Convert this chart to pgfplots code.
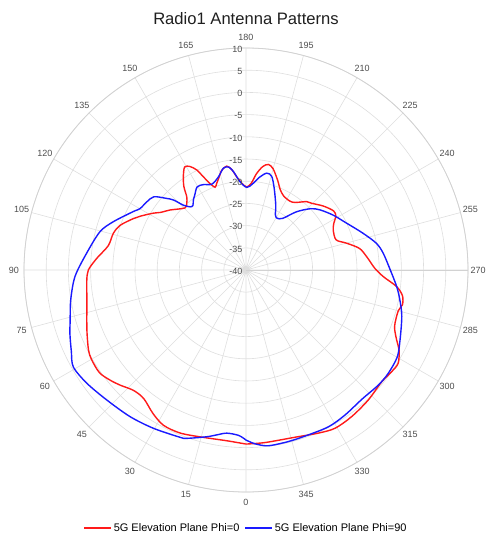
\documentclass[border=0pt]{standalone}
\usepackage{pgfplots}
\pgfplotsset{compat=1.18}
\usepgfplotslibrary{polar}
\usepackage{pgfplotstable}
\usepackage{fontspec}
\setmainfont{Liberation Sans}
\definecolor{lblgray}{HTML}{4D4D4D}
\definecolor{gridgray}{HTML}{DEDEDE}
\definecolor{ringgray}{HTML}{D2D2D2}
\definecolor{redline}{HTML}{FF1A1A}
\definecolor{blueline}{HTML}{1A1AFF}

\pgfplotstableread{
a r
0 -0.8
6.5 -1.3
15 -1.05
22 -0.4
28 -0.4
33 -1.5
38.5 -3.0
43 -2.9
47.5 -1.6
51 -0.6
55 0.3
60 0.2
63 -0.2
68 -1.4
72.5 -2.4
79 -3.5
86 -4.05
90 -4.5
94.5 -6.3
100 -8.5
105.5 -9.0
109.5 -9.9
114.5 -12.1
117 -13.3
121.5 -15.5
124 -16.8
128.3 -18.2
135.5 -20.4
138.4 -19.9
141 -18.8
143.3 -16.6
146.1 -14.7
149.2 -13.0
151.6 -13.5
153.8 -14.9
155.4 -16.9
157.4 -18.9
159.5 -20.1
161.3 -19.4
163.5 -18.4
166.3 -16.9
169.5 -16.2
172 -17.2
174.3 -18.9
177.2 -20.4
180.5 -21.3
183.5 -20.4
186.2 -18.2
189.2 -16.4
192 -15.7
195 -16.4
199.7 -18.7
203 -20.3
207 -21.3
212.5 -21.6
216 -21.2
221.6 -19.4
224.6 -18.9
230.4 -17.4
236 -16.2
239 -16.4
242 -17.6
245.5 -18.4
251.5 -18.6
255 -16.6
259.2 -14.0
263.7 -12.65
269.2 -11.0
272.8 -9.0
276.3 -5.85
279.3 -4.3
282.5 -3.9
285 -4.5
290.8 -4.2
294.9 -2.6
297.6 -1.1
301.5 0.2
305 0.0
309.5 -0.4
316.8 0.2
324.2 0.7
330.6 0.9
336 0.2
343.7 -0.75
353.7 -0.9
360 -0.8
}\redtab

\pgfplotstableread{
a r
0 -1.7
2.5 -2.7
6.7 -3.0
10 -2.3
13.3 -1.4
19.4 0.2
21.5 0.5
30.3 1.3
38.3 2.1
47 2.9
54.6 4.0
60.7 4.6
65 3.4
70 2.2
74 1.2
80.3 0.05
87.8 -1.45
96 -3.9
104.7 -6.0
110 -8.2
117.4 -11.4
120 -12.4
124.5 -12.9
128.5 -13.5
132 -15.9
134 -17.3
136 -19.7
138.5 -21.0
140.5 -21.2
143 -20.3
145.5 -19.6
149.5 -18.3
153.5 -18.5
158.2 -19.2
163.3 -18.2
167.5 -16.5
170.5 -16.5
172.8 -17.7
176 -20.0
180.5 -21.4
184.5 -20.5
188.5 -18.8
192.1 -17.7
195.3 -18.1
199 -20.5
204.8 -24.0
208 -25.9
211 -26.4
215.5 -25.7
221 -22.6
226.6 -19.9
231 -18.5
237.8 -16.8
244 -15.3
252.5 -12.4
258.5 -10.0
263.1 -8.85
270 -7.5
276.3 -5.85
281 -4.7
286.5 -3.4
294.4 -1.9
299.9 -0.7
306 -0.4
311 -0.5
318 -0.9
325.7 -0.45
332.3 -0.1
340.4 -0.3
346.2 -0.2
352.8 -0.1
357 -0.8
360 -1.7
}\bluetab

\begin{document}
\begin{tikzpicture}[x=1pt,y=1pt]
\useasboundingbox (-246,-265) rectangle (244,270);
\node[anchor=base, font=\fontsize{16.6}{19}\selectfont, text=black!88] at (0,245) {Radio1 Antenna Patterns};
\begin{polaraxis}[
  at={(0,0)}, anchor=center,
  scale only axis, width=444pt, height=444pt,
  xmin=0, xmax=360, ymin=0, ymax=50,
  xtick={0,15,...,345}, ytick={0,5,...,50},
  xticklabels={}, yticklabels={},
  xticklabel style={opacity=0}, yticklabel style={opacity=0},
  major tick length=0pt,
  xmajorgrids, ymajorgrids,
  grid style={gridgray, line width=0.6pt},
  axis line style={ringgray, line width=0.8pt},
  clip=false,
  legend style={at={(0.5,0)}, anchor=north, yshift=-28pt, draw=none, fill=none,
    legend columns=2, font=\fontsize{11}{13}\selectfont, inner sep=1pt,
    /tikz/every even column/.append style={column sep=3pt}},
  legend cell align=left,
]
\addplot[redline, line width=1.4pt, smooth, tension=0.5,
  legend image code/.code={\draw[redline, line width=1.4pt] (0pt,0pt) -- (27pt,0pt);}]
  table[x expr={270-\thisrow{a}}, y expr={\thisrow{r}+40}] {\redtab};
\addlegendentry{5G Elevation Plane Phi=0}
\addplot[blueline, line width=1.4pt, smooth, tension=0.5,
  legend image code/.code={\draw[blueline, line width=1.4pt] (0pt,0pt) -- (27pt,0pt);}]
  table[x expr={270-\thisrow{a}}, y expr={\thisrow{r}+40}] {\bluetab};
\addlegendentry{5G Elevation Plane Phi=90}
% radial labels
\foreach \v/\lab in {0/-40,5/-35,10/-30,15/-25,20/-20,25/-15,30/-10,35/-5,40/0,45/5,50/10}{
  \edef\tmp{\noexpand\node[anchor=east, xshift=-3pt, yshift=-1.2pt, inner sep=0.5pt, font=\noexpand\fontsize{9}{10}\noexpand\selectfont, text=lblgray] at (axis cs:90,\v) {\lab};}\tmp
}
% angular labels
\foreach \p/\lab in {0/270,15/255,30/240,45/225,60/210,75/195,90/180,105/165,120/150,135/135,150/120,165/105,180/90,195/75,210/60,225/45,240/30,255/15,270/0,285/345,300/330,315/315,330/300,345/285}{
  \edef\tmp{\noexpand\node[anchor=center, inner sep=0pt, font=\noexpand\fontsize{9}{10}\noexpand\selectfont, text=lblgray] at (axis cs:\p,52.3) {\lab};}\tmp
}
\end{polaraxis}
\end{tikzpicture}
\end{document}
